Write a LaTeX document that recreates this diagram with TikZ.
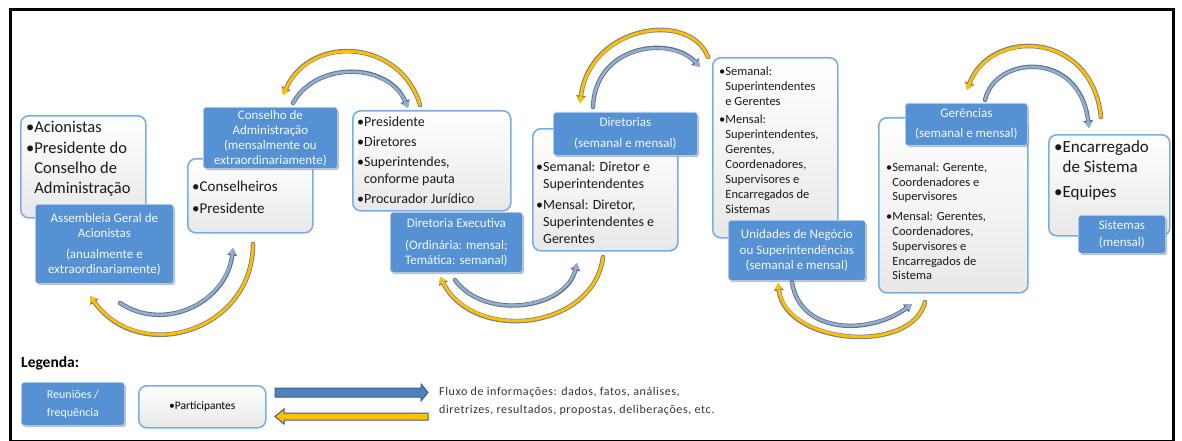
\documentclass[tikz,border=0pt]{standalone}
\usepackage{fontspec}
\setmainfont{Carlito}
\usetikzlibrary{arrows.meta,shadows}
\definecolor{bbox}{HTML}{5692D3}
\definecolor{bboxedge}{HTML}{A9C8EA}
\definecolor{wline}{HTML}{7AAEE2}
\definecolor{ylw}{HTML}{FFC000}
\definecolor{yedge}{HTML}{7A7F88}
\definecolor{bln}{HTML}{94AECF}
\definecolor{bedge}{HTML}{5C6F8C}
\definecolor{legblue}{HTML}{4F81BD}
\definecolor{legedge}{HTML}{385D8A}
\newcommand{\myb}{\textbullet}
\newcommand{\myi}{\hphantom{\textbullet}}
\begin{document}
\begin{tikzpicture}[x=1pt,y=-1pt,
  wbox/.style={draw=wline, line width=1.6pt, rounded corners=8pt, top color=white, bottom color=black!9, inner sep=0pt, anchor=north west},
  bbx/.style={fill=bbox, draw=bboxedge, line width=0.8pt, rounded corners=3pt, text=white!93!bbox, align=center, inner sep=0pt, anchor=north west,
     drop shadow={shadow xshift=1.6pt, shadow yshift=-1.8pt, fill=black!45, opacity=0.55}},
  wtext/.style={align=left, inner sep=0pt, anchor=north west, text=black!90},
  yarr/.style={draw=ylw, line width=2.8pt, line cap=round, -{Triangle[length=6pt,width=7.5pt]},
     preaction={draw=yedge, line width=4.6pt, line cap=round, -{Triangle[length=7.5pt,width=9.5pt]}}},
  barr/.style={draw=bln, line width=2.6pt, line cap=round, -{Triangle[length=6pt,width=7.5pt]},
     preaction={draw=bedge, line width=4.4pt, line cap=round, -{Triangle[length=7.5pt,width=9.5pt]}}}
]
\useasboundingbox (0,0) rectangle (1182,441);
\draw[line width=3pt] (10,10) rectangle (1173,441.5);

% ---- boxes
\node[wbox, minimum width=125, minimum height=102] (w1) at (20,115) {};
\node[wtext, font=\fontsize{16.5}{20}\selectfont] (t1) at (26,121) {\myb Acionistas\\[1pt]\myb Presidente do\\\myi Conselho de\\\myi Administração};
\node[bbx, minimum width=138, minimum height=79, font=\fontsize{13}{15}\selectfont] (b1) at (35,204) {Assembleia Geral de\\Acionistas\\[6pt](anualmente e\\extraordinariamente)};

\node[wbox, minimum width=125, minimum height=74] (w2) at (187,158) {};
\node[wtext, font=\fontsize{15}{16}\selectfont] (t2) at (192,181) {\myb Conselheiros\\[6pt]\myb Presidente};
\node[bbx, minimum width=134, minimum height=61, font=\fontsize{13}{15}\selectfont] (b2) at (203,107) {Conselho de\\Administração\\(mensalmente ou\\extraordinariamente)};

\node[wbox, minimum width=158, minimum height=100] (w3) at (352,110) {};
\node[wtext, font=\fontsize{14}{17}\selectfont] (t3) at (357,117) {\myb Presidente\\[3pt]\myb Diretores\\[3pt]\myb Superintendes,\\\myi conforme pauta\\[3pt]\myb Procurador Jurídico};
\node[bbx, minimum width=132, minimum height=60, font=\fontsize{13}{15}\selectfont] (b3) at (390,212) {Diretoria Executiva\\[7pt](Ordinária: mensal;\\Temática: semanal)};

\node[wbox, minimum width=145, minimum height=122] (w4) at (532,128) {};
\node[wtext, font=\fontsize{14}{17}\selectfont] (t4) at (536,162) {\myb Semanal: Diretor e\\\myi Superintendentes\\[4pt]\myb Mensal: Diretor,\\\myi Superintendentes e\\\myi Gerentes};
\node[bbx, minimum width=144, minimum height=43, font=\fontsize{13}{15}\selectfont] (b4) at (553,112) {Diretorias\\[6pt](semanal e mensal)};

\node[wbox, minimum width=125, minimum height=180] (w5) at (712,57) {};
\node[wtext, font=\fontsize{12.5}{15}\selectfont] (t5) at (719,66.5) {\myb Semanal:\\\myi Superintendentes\\\myi e Gerentes\\[3pt]\myb Mensal:\\\myi Superintendentes,\\\myi Gerentes,\\\myi Coordenadores,\\\myi Supervisores e\\\myi Encarregados de\\\myi Sistemas};
\node[bbx, minimum width=137, minimum height=60, font=\fontsize{13}{15.5}\selectfont] (b5) at (728,220) {Unidades de Negócio\\ou Superintendências\\(semanal e mensal)};

\node[wbox, minimum width=149, minimum height=175] (w6) at (878,117) {};
\node[wtext, font=\fontsize{12.5}{14.8}\selectfont] (t6) at (886,162.5) {\myb Semanal: Gerente,\\\myi Coordenadores e\\\myi Supervisores\\[5pt]\myb Mensal: Gerentes,\\\myi Coordenadores,\\\myi Supervisores e\\\myi Encarregados de\\\myi Sistema};
\node[bbx, minimum width=122, minimum height=42, font=\fontsize{13}{15}\selectfont] (b6) at (905,103) {Gerências\\[5pt](semanal e mensal)};

\node[wbox, minimum width=121, minimum height=101] (w7) at (1048,134) {};
\node[wtext, font=\fontsize{17}{20.5}\selectfont] (t7) at (1054,140) {\myb Encarregado\\\myi de Sistema\\[4pt]\myb Equipes};
\node[bbx, minimum width=87, minimum height=38, font=\fontsize{13}{15}\selectfont] (b7) at (1078,215) {Sistemas\\[2pt](mensal)};

% ---- curved arrows (free ends as named coordinates)
\coordinate (y1s) at (253,244); \coordinate (y1e) at (90,296);
\coordinate (b1s) at (120,303); \coordinate (b1e) at (233,248);
\coordinate (y2s) at (420,105); \coordinate (y2e) at (283,95);
\coordinate (b2s) at (293,103); \coordinate (b2e) at (408,108);
\coordinate (y3s) at (603,257); \coordinate (y3e) at (440,277);
\coordinate (b3s) at (455,280); \coordinate (b3e) at (577,263);
\coordinate (y4s) at (708,57);  \coordinate (y4e) at (580,103);
\coordinate (b4s) at (593,107); \coordinate (b4e) at (700,67);
\coordinate (y5s) at (925,302); \coordinate (y5e) at (778,283);
\coordinate (b5s) at (792,282); \coordinate (b5e) at (912,304);
\coordinate (y6s) at (1101,117); \coordinate (y6e) at (967,90);
\coordinate (b6s) at (985,100); \coordinate (b6e) at (1089,128);

\draw[yarr] (y1s) .. controls (253,331) and (140,366) .. (y1e);
\draw[barr] (b1s) .. controls (165,333) and (227,302) .. (b1e);
\draw[yarr] (y2s) .. controls (401,40) and (311,33) .. (y2e);
\draw[barr] (b2s) .. controls (317,60) and (389,63) .. (b2e);
\draw[yarr] (y3s) .. controls (594,329) and (475,344) .. (y3e);
\draw[barr] (b3s) .. controls (485,321) and (566,309) .. (b3e);
\draw[yarr] (y4s) .. controls (690,10) and (590,25) .. (y4e);
\draw[barr] (b4s) .. controls (595,45) and (670,35) .. (b4e);
\draw[yarr] (y5s) .. controls (912,355) and (785,345) .. (y5e);
\draw[barr] (b5s) .. controls (800,335) and (870,335) .. (b5e);
\draw[yarr] (y6s) .. controls (1092,30) and (990,28) .. (y6e);
\draw[barr] (b6s) .. controls (995,55) and (1080,50) .. (b6e);

% ---- legend
\node[anchor=west, inner sep=0pt, font=\fontsize{15.5}{18}\selectfont\bfseries] (leg) at (21,363) {Legenda:};
\node[bbx, minimum width=103, minimum height=43, font=\fontsize{12}{14}\selectfont] (lb) at (21,382) {Reuniões /\\[4pt]frequência};
\node[wbox, minimum width=127, minimum height=42, font=\fontsize{11.5}{13}\selectfont] (lw) at (138,385) {\myb Participantes};
\fill[legblue, draw=legedge, line width=1pt] (275,388) -- (421,388) -- (421,384) -- (428,392.5) -- (421,401) -- (421,397) -- (275,397) -- cycle;
\fill[ylw, draw=legedge, line width=1pt] (428,413) -- (284,413) -- (284,409) -- (275,416.5) -- (284,424) -- (284,420) -- (428,420) -- cycle;
\node[anchor=north west, inner sep=0pt, align=left, text=black!80, font=\fontsize{12}{18}\selectfont\addfontfeature{LetterSpace=5}] (ltxt) at (439,387) {Fluxo de informações: dados, fatos, análises,\\diretrizes, resultados, propostas, deliberações, etc.};
\end{tikzpicture}
\end{document}
